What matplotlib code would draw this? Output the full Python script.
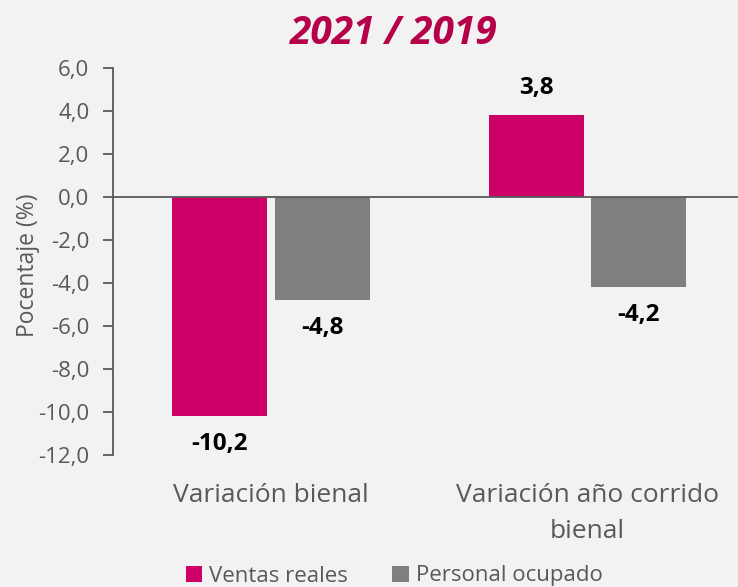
import matplotlib.pyplot as plt
from matplotlib.patches import Patch
from matplotlib.ticker import FuncFormatter

categories = ["Variación bienal", "Variación año corrido\nbienal"]
ventas_reales = [-10.2, 3.8]
personal_ocupado = [-4.8, -4.2]
series_names = ["Ventas reales", "Personal ocupado"]

PINK = "#cc0066"
GRAY = "#7f7f7f"
TEXT = "#595959"
BG = "#f2f2f2"

plt.rcParams["font.family"] = ["Open Sans", "DejaVu Sans"]

fig = plt.figure(figsize=(7.38, 5.87), dpi=100, facecolor=BG)
ax = fig.add_axes([113 / 738, 1 - 455 / 587, 1 - 113 / 738, (455 - 68) / 587])
ax.set_facecolor(BG)

x = list(range(len(categories)))
width = 0.3
off = 0.162
bars1 = ax.bar([i - off for i in x], ventas_reales, width, color=PINK)
bars2 = ax.bar([i + off for i in x], personal_ocupado, width, color=GRAY)

# value labels beyond the bar ends
for bars in (bars1, bars2):
    for b in bars:
        v = b.get_height()
        ax.annotate(f"{v:.1f}".replace(".", ","),
                    (b.get_x() + b.get_width() / 2, v),
                    xytext=(0, 20 if v >= 0 else -20), textcoords="offset points",
                    ha="center", va="center", fontsize=17.5, fontweight="bold",
                    color="black")

ax.axhline(0, color=TEXT, lw=1.3)
ax.set_ylim(-12, 6)
ax.set_xlim(-0.5, 1.475)
ax.set_yticks(range(-12, 7, 2))
ax.yaxis.set_major_formatter(FuncFormatter(lambda v, p: f"{v:.1f}".replace(".", ",")))
ax.set_xticks(x)
ax.set_xticklabels(categories, fontsize=19, color=TEXT, linespacing=1.6)
ax.tick_params(axis="x", length=0, pad=20)
ax.tick_params(axis="y", labelsize=16, labelcolor=TEXT, color=TEXT, length=7,
               width=1.3, pad=10)
for s in ("top", "right", "bottom"):
    ax.spines[s].set_visible(False)
ax.spines["left"].set_color(TEXT)
ax.spines["left"].set_linewidth(1.3)
ax.set_ylabel("Pocentaje (%)", fontsize=16.5, color=TEXT, va="center")
ax.yaxis.set_label_coords(-0.136, 0.49)

fig.text(394 / 738, 1 - 33 / 587, "2021 / 2019", ha="center", va="center",
         fontsize=28, fontweight="bold", fontstyle="italic", color="#b5004a")

handles = [Patch(facecolor=PINK, label=series_names[0]),
           Patch(facecolor=GRAY, label=series_names[1])]
leg = fig.legend(handles=handles, loc="center", bbox_to_anchor=(394 / 738, 1 - 576 / 587),
                 ncol=2, frameon=False, fontsize=16, handlelength=0.75, handleheight=0.75,
                 handletextpad=0.3, columnspacing=2.0, borderpad=0)
for t in leg.get_texts():
    t.set_color(TEXT)

fig.savefig("out.png", dpi=100, facecolor=BG)
